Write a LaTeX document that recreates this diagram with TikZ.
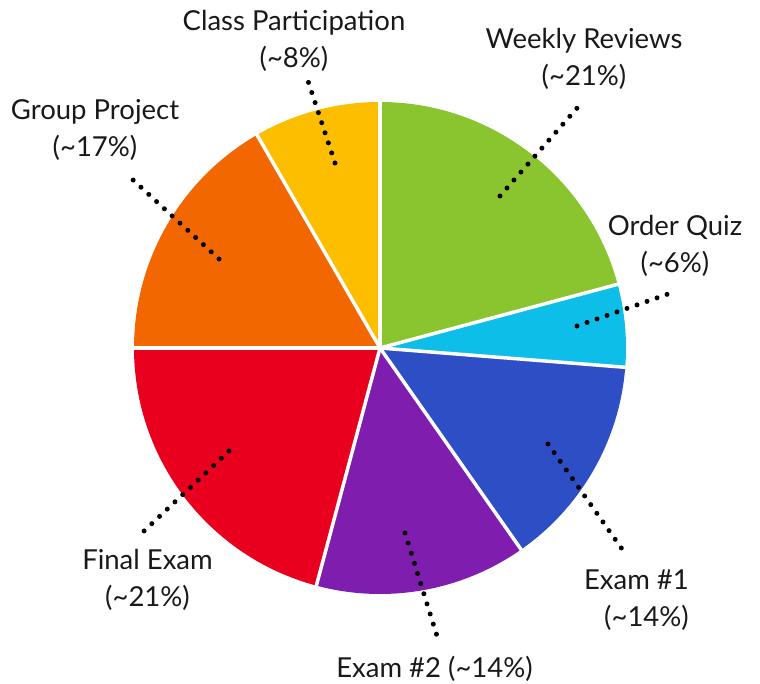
\documentclass[tikz,border=0pt]{standalone}
\usepackage{fontspec}
\setmainfont{Lato}
\definecolor{cgreen}{HTML}{8AC530}
\definecolor{ccyan}{HTML}{0CBEE8}
\definecolor{cblue}{HTML}{2E4EC6}
\definecolor{cpurple}{HTML}{7E1DAE}
\definecolor{cred}{HTML}{E8001E}
\definecolor{corange}{HTML}{F26700}
\definecolor{cyellow}{HTML}{FDBE00}
\begin{document}
\begin{tikzpicture}[x=1pt,y=1pt,
  lbl/.style={font=\fontsize{27.5}{37}\selectfont, inner sep=0pt, align=center, anchor=base, text=black!90},
  leader/.style={draw=black, line width=5pt, line cap=round, dash pattern=on 0pt off 10.6pt},
  sep/.style={draw=white, line width=3.5pt}]
\useasboundingbox (0,0) rectangle (760,684);
\coordinate (c) at (380,336);
\def\R{246}
\foreach \a/\b/\col in {90/15/cgreen, 15/-4.5/ccyan, -4.5/-55/cblue, -55/-105/cpurple, -105/-180/cred, -180/-240/corange, -240/-270/cyellow}{
  \fill[\col] (c) -- ++(\a:\R) arc[start angle=\a, end angle=\b, radius=\R] -- cycle;
}
\foreach \a in {90,15,-4.5,-55,-105,180,120}{
  \draw[sep] (c) -- ++(\a:\R+2);
}
% leaders
\coordinate (w1) at (500,488); \coordinate (w2) at (578,577);
\coordinate (o1) at (577,358); \coordinate (o2) at (668,390);
\coordinate (e1a) at (548,240); \coordinate (e1b) at (622,135);
\coordinate (e2a) at (405,151); \coordinate (e2b) at (437,48);
\coordinate (fa) at (229,233); \coordinate (fb) at (143,152);
\coordinate (ga) at (219,425); \coordinate (gb) at (132,505);
\coordinate (ca) at (335,521); \coordinate (cb) at (308,603);
\draw[leader] (w1) -- (w2);
\draw[leader] (o1) -- (o2);
\draw[leader] (e1a) -- (e1b);
\draw[leader] (e2a) -- (e2b);
\draw[leader] (fa) -- (fb);
\draw[leader] (ga) -- (gb);
\draw[leader] (ca) -- (cb);
% labels (anchor = baseline of last line)
\node[lbl] (lc) at (294,616) {Class Participation\\(\textasciitilde8\%)};
\node[lbl] (lg) at (95,527) {Group Project\\(\textasciitilde17\%)};
\node[lbl] (lw) at (584,598) {Weekly Reviews\\(\textasciitilde21\%)};
\node[lbl] (lo) at (675,411) {Order Quiz\\(\textasciitilde6\%)};
\node[lbl, align=right, anchor=base east] (le1) at (689,57) {Exam \#1\\(\textasciitilde14\%)};
\node[lbl] (le2) at (434.5,6) {Exam \#2 (\textasciitilde14\%)};
\node[lbl] (lf) at (147.5,77) {Final Exam\\(\textasciitilde21\%)};
\end{tikzpicture}
\end{document}
